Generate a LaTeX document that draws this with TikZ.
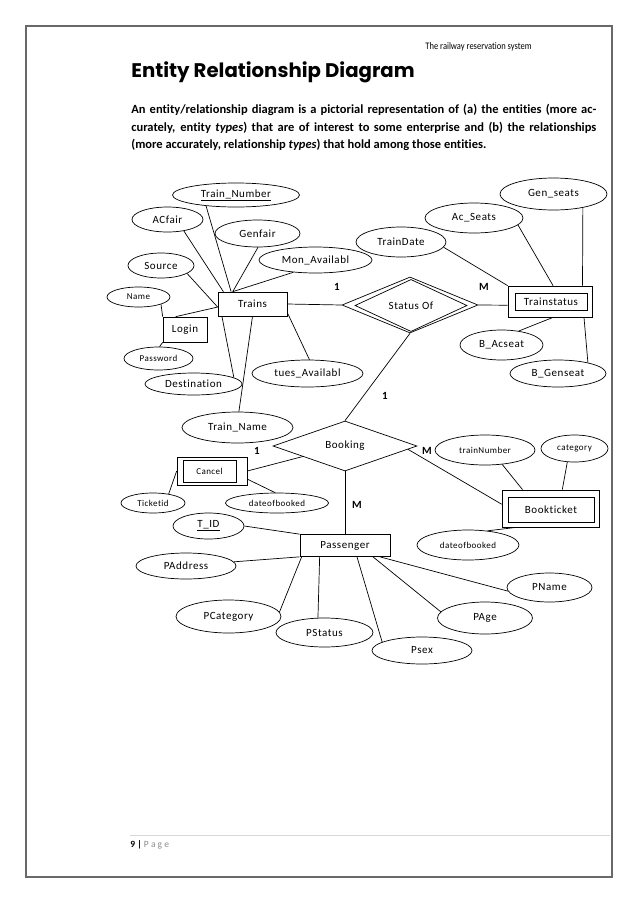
\documentclass[tikz,border=0pt]{standalone}
\usepackage{fontspec}
\setmainfont{Carlito}[Ligatures=NoCommon]
\newfontfamily\erfont{Carlito}[LetterSpace=5, Ligatures=NoCommon]
\newfontfamily\titlefont{Poppins}
\usepackage{tikz}
\usetikzlibrary{shapes.geometric}
\usepackage{xcolor}
\definecolor{Frame}{RGB}{105,105,105}
\definecolor{Rule}{RGB}{215,215,215}
\definecolor{PageGray}{RGB}{140,140,140}

\begin{document}
\begin{tikzpicture}[x=1pt, y=-1pt, line width=0.7pt,
  attr/.style={draw, ellipse, inner sep=0pt, font=\erfont\fontsize{11}{12}\selectfont},
  small/.style={font=\erfont\fontsize{9}{10}\selectfont},
  ent/.style={draw, rectangle, inner sep=0pt, font=\erfont\fontsize{11}{12}\selectfont},
  rel/.style={draw, diamond, inner sep=0pt, font=\erfont\fontsize{11}{12}\selectfont},
  card/.style={inner sep=0pt, font=\fontsize{11}{12}\selectfont\bfseries}]
\useasboundingbox (0,0) rectangle (638,903);
\draw[Frame, line width=1.2pt] (26,26) rectangle (612,877);

\node[anchor=base east, inner sep=0pt] (header) at (532,49) {\scalebox{0.85}[1]{\fontsize{10}{11}\selectfont The railway reservation system}};
\node[anchor=base west, inner sep=0pt] (title) at (131,77) {\titlefont\bfseries\fontsize{19.7}{22}\selectfont Entity Relationship Diagram};
\node[anchor=north west, inner sep=0pt, text width=465pt, align=justify, font=\bfseries\fontsize{12.5}{17.5}\selectfont] (intro) at (131,104) {An entity/relationship diagram is a pictorial representation of (a) the entities (more ac-\linebreak curately, entity \textit{types}) that are of interest to some enterprise and (b) the relationships\linebreak (more accurately, relationship \textit{types}) that hold among those entities.};

\node[ent, minimum width=69, minimum height=24] (trains) at (252.5,304) {Trains};
\node[ent, minimum width=44, minimum height=25] (login) at (185,329.5) {Login};
\node[ent, minimum width=84, minimum height=31] (trainstatus) at (550,301.5) {};
\node[ent, minimum width=72, minimum height=17] (trainstatusin) at (551,301.5) {Trainstatus};
\node[ent, minimum width=70, minimum height=28] (cancel) at (212,471) {};
\node[ent, minimum width=53, minimum height=22, small] (cancelin) at (209.5,471) {Cancel};
\node[ent, minimum width=97, minimum height=37] (bookticket) at (550.5,508.5) {};
\node[ent, minimum width=86, minimum height=25] (bookticketin) at (551,509.5) {Bookticket};
\node[ent, minimum width=90, minimum height=22] (passenger) at (345,545.5) {Passenger};

\node[rel, minimum width=136, minimum height=56] (statusof) at (410,305) {};
\node[rel, minimum width=112, minimum height=39] (statusofin) at (411,305.5) {Status Of};
\node[rel, minimum width=144, minimum height=50] (booking) at (345,446) {Booking};

\node[attr, minimum width=127, minimum height=24] (trnum) at (236,195) {\underline{Train\_Number}};
\node[attr, minimum width=71, minimum height=25] (acfair) at (167.5,219.5) {ACfair};
\node[attr, minimum width=85, minimum height=27] (genfair) at (257.5,233.5) {Genfair};
\node[attr, minimum width=113, minimum height=26] (mon) at (315.5,260) {Mon\_Availabl};
\node[attr, minimum width=66, minimum height=25] (source) at (161,265.5) {Source};
\node[attr, minimum width=63, minimum height=20, small] (name) at (138.5,297) {Name};
\node[attr, minimum width=69, minimum height=23, small] (password) at (158.5,358.5) {Password};
\node[attr, minimum width=97, minimum height=22] (dest) at (193.5,384) {Destination};
\node[attr, minimum width=111, minimum height=27] (tues) at (307.5,373.5) {tues\_Availabl};
\node[attr, minimum width=111, minimum height=31] (trname) at (237.5,427.5) {Train\_Name};
\node[attr, minimum width=90, minimum height=30] (traindate) at (401,242) {TrainDate};
\node[attr, minimum width=98, minimum height=30] (acseats) at (474,218) {Ac\_Seats};
\node[attr, minimum width=107, minimum height=32] (genseats) at (553.5,194) {Gen\_seats};
\node[attr, minimum width=83, minimum height=30] (bacseat) at (501.5,345) {B\_Acseat};
\node[attr, minimum width=96, minimum height=27] (bgenseat) at (558,373.5) {B\_Genseat};
\node[attr, minimum width=64, minimum height=20, small] (ticketid) at (153,503) {Ticketid};
\node[attr, minimum width=103, minimum height=20, small] (dateleft) at (277,503) {dateofbooked};
\node[attr, minimum width=71, minimum height=26] (tid) at (208.5,526) {\underline{T\_ID}};
\node[attr, minimum width=100, minimum height=30, small] (trainnum) at (485,450) {trainNumber};
\node[attr, minimum width=67, minimum height=27, small] (category) at (574.5,448.5) {category};
\node[attr, minimum width=102, minimum height=30, small] (dateright) at (468,545) {dateofbooked};
\node[attr, minimum width=100, minimum height=26] (paddress) at (186,566) {PAddress};
\node[attr, minimum width=105, minimum height=33] (pcategory) at (228.5,616.5) {PCategory};
\node[attr, minimum width=97, minimum height=29] (pstatus) at (324.5,632.5) {PStatus};
\node[attr, minimum width=100, minimum height=27] (psex) at (422,650.5) {Psex};
\node[attr, minimum width=95, minimum height=32] (page) at (485,618) {PAge};
\node[attr, minimum width=85, minimum height=29] (pname) at (549.5,587.5) {PName};

\node[card] (c1) at (337,287) {1};
\node[card] (c2) at (484,287) {M};
\node[card] (c3) at (385,396) {1};
\node[card] (c4) at (257,451) {1};
\node[card] (c5) at (427,451) {M};
\node[card] (c6) at (357,505) {M};

\draw (trnum.200) -- (trains.150);
\draw (acfair.-35) -- (trains.157);
\draw (genfair.-88) -- (trains.148);
\draw (mon.209) -- (trains.148);
\draw (source.-17) -- (trains.185);
\draw (login.126) -- (trains.185);
\draw (name.-18) -- (login.north west);
\draw (password.85) -- (login.south west);
\draw (dest.9) -- (trains.202);
\draw (trains.south) -- (trname.85);
\draw (trains.-14) -- (tues.82);
\draw (trains.east) -- (statusof.west);

\draw (statusof.east) -- (trainstatus.185);
\draw (traindate.-7) -- (trainstatus.north west);
\draw (acseats.-9) -- (trainstatus.79);
\draw (genseats.-25) -- (trainstatus.26);
\draw (trainstatus.-79) -- (bacseat.39);
\draw (trainstatus.-25) -- (bgenseat.20);
\draw (statusof.south) -- (booking.north);

\draw (booking.194) -- (cancel.east);
\draw (cancel.west) -- (ticketid.30);
\draw (cancel.-13) -- (dateleft.100);
\draw (tid.east) -- (passenger.north west);
\draw (booking.south) -- (passenger.north);
\draw (booking.-3) -- (bookticket.175);
\draw (trainnum.-40) -- (bookticket.146);
\draw (category.-118) -- (bookticket.58);
\draw (bookticket.209) -- (dateright.36);

\draw (paddress.5) -- (passenger.south west);
\draw (pcategory.5) -- ([xshift=2]passenger.south west);
\draw (pstatus.114) -- ([xshift=20]passenger.south west);
\draw (psex.168) -- ([xshift=12]passenger.south);
\draw (page.172) -- ([xshift=28]passenger.south);
\draw (pname.185) -- ([xshift=35]passenger.south);

\draw[Rule, line width=0.6pt] (130,835) -- (610,835);
\node[anchor=base west, inner sep=0pt] (pageno) at (130,847) {\fontsize{9.5}{11}\selectfont\textbf{9 |} \textcolor{PageGray}{P a g e}};
\end{tikzpicture}
\end{document}
